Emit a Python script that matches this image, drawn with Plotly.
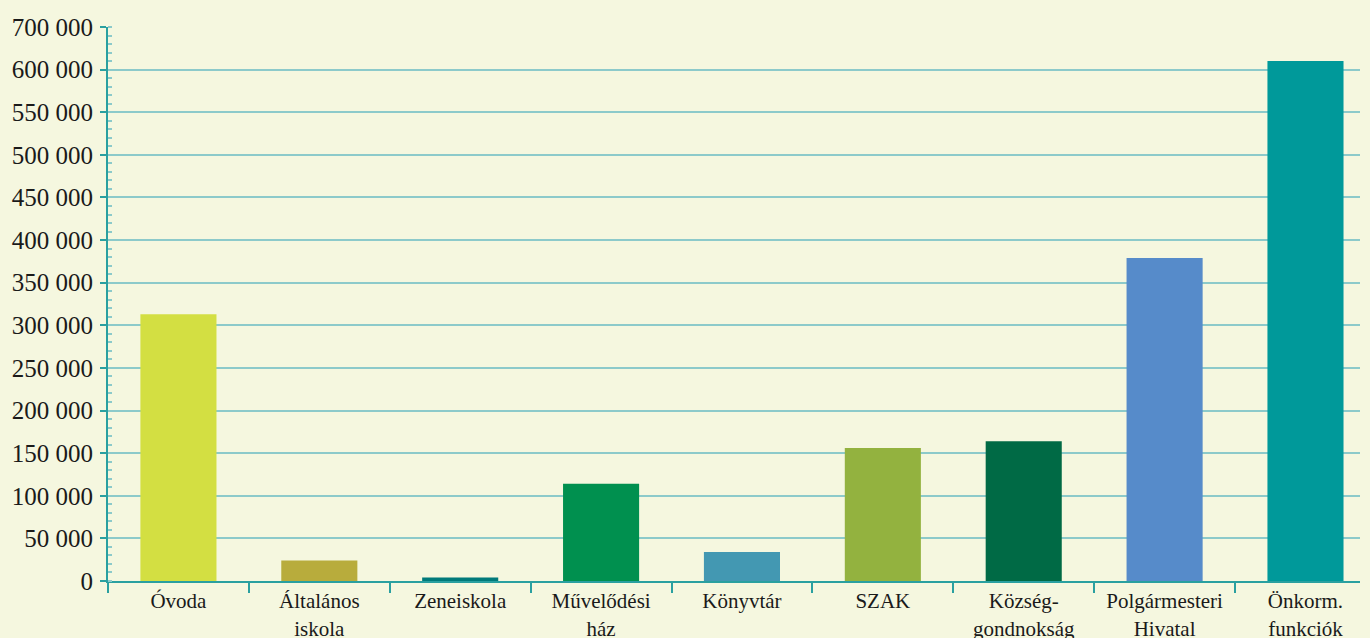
import plotly.graph_objects as go

categories = ["Óvoda", "Általános<br>iskola", "Zeneiskola", "Művelődési<br>ház", "Könyvtár",
              "SZAK", "Község-<br>gondnokság", "Polgármesteri<br>Hivatal", "Önkorm.<br>funkciók"]
values = [313000, 24000, 4000, 114000, 34000, 156000, 164000, 379000, 610000]
colors = ["#d3df42", "#b8ac3c", "#007a7a", "#00904f", "#4398b2",
          "#93b23f", "#006a45", "#568bca", "#00999a"]
tick_vals = [0, 50000, 100000, 150000, 200000, 250000, 300000, 350000, 400000,
             450000, 500000, 550000, 600000, 650000]
tick_text = ["0", "50 000", "100 000", "150 000", "200 000", "250 000", "300 000", "350 000",
             "400 000", "450 000", "500 000", "550 000", "600 000", "700 000"]

axis_col = "#2aa0a0"
grid_col = "#8ccaca"
bg = "#f5f7df"

fig = go.Figure(go.Bar(x=categories, y=values, marker=dict(color=colors, line=dict(width=0)),
                       width=0.54))

fig.update_layout(
    width=1370, height=638,
    margin=dict(l=108, r=10, t=27, b=57, autoexpand=False),
    paper_bgcolor=bg, plot_bgcolor=bg,
    font=dict(family="Liberation Serif, Times New Roman, serif", color="#1a1a1a"),
    showlegend=False,
)
fig.update_xaxes(
    range=[-0.5, 8.387], showline=True, linecolor=axis_col, linewidth=2,
    ticks="outside", tickson="boundaries", ticklen=10, tickcolor=axis_col, tickwidth=2,
    tickfont=dict(size=21), showgrid=False,
)
fig.update_yaxes(
    range=[0, 650000], tickvals=tick_vals, ticktext=tick_text,
    showline=True, linecolor=axis_col, linewidth=2,
    ticks="outside", ticklen=6, tickcolor=axis_col, tickwidth=2,
    ticklabelstandoff=2,
    minor=dict(ticks="inside", ticklen=4, dtick=10000, tickcolor=grid_col, tickwidth=2, showgrid=False),
    showgrid=True, gridcolor=grid_col, gridwidth=2,
    tickfont=dict(size=25), zeroline=False,
)

fig.write_html(
    "out.html",
    config={"displayModeBar": False},
    post_script="document.body.style.margin='0';document.body.style.overflow='hidden';"
                "document.body.style.background='#f5f7df';",
)
